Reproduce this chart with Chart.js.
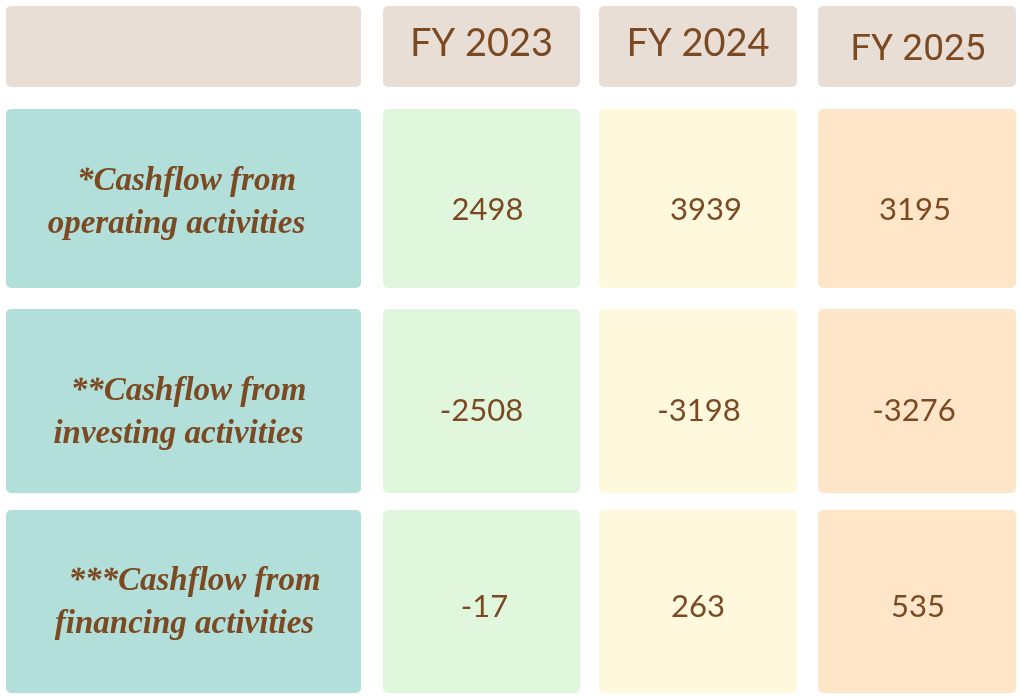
<!DOCTYPE html>
<html>
<head>
<meta charset="utf-8">
<script src="https://cdn.jsdelivr.net/npm/chart.js@4"></script>
<style>
  html, body { margin: 0; padding: 0; background: #ffffff; }
  canvas { display: block; }
</style>
</head>
<body>
<canvas id="cashflowTable" width="1021" height="697"></canvas>
<script>
// Data
const years = ['FY 2023', 'FY 2024', 'FY 2025'];
const rowLabels = [
    ['*Cashflow from', 'operating activities'],
    ['**Cashflow from', 'investing activities'],
    ['***Cashflow from', 'financing activities']
];
const fy2023 = [2498, -2508, -17];
const fy2024 = [3939, -3198, 263];
const fy2025 = [3195, -3276, 535];
const series = [fy2023, fy2024, fy2025];

// Layout (in scale units, 1 unit = 1 px)
const colEdges = [[6, 361], [383, 580], [599, 797], [818, 1016]];
const rowEdges = [[6, 87], [109, 288], [309, 493], [510, 693]];
const headerFill = '#e9ded6';
const labelFill = '#b2dfd9';
const colFills = ['#e0f7dd', '#fef8dc', '#ffe6c8'];
const textColor = '#7b4a22';

function roundRect(ctx, x, y, w, h, r) {
    ctx.beginPath();
    ctx.moveTo(x + r, y);
    ctx.arcTo(x + w, y, x + w, y + h, r);
    ctx.arcTo(x + w, y + h, x, y + h, r);
    ctx.arcTo(x, y + h, x, y, r);
    ctx.arcTo(x, y, x + w, y, r);
    ctx.closePath();
    ctx.fill();
}

const tablePlugin = {
    id: 'tableCells',
    afterDraw(chart) {
        const ctx = chart.ctx;
        const xs = chart.scales.x;
        const ys = chart.scales.y;
        const cell = (c, r) => {
            const x0 = xs.getPixelForValue(colEdges[c][0]);
            const x1 = xs.getPixelForValue(colEdges[c][1]);
            const y0 = ys.getPixelForValue(rowEdges[r][0]);
            const y1 = ys.getPixelForValue(rowEdges[r][1]);
            return { x: x0, y: y0, w: x1 - x0, h: y1 - y0, cx: (x0 + x1) / 2, cy: (y0 + y1) / 2 };
        };
        ctx.save();
        // backgrounds
        for (let r = 0; r < rowEdges.length; r++) {
            for (let c = 0; c < colEdges.length; c++) {
                const b = cell(c, r);
                ctx.fillStyle = r === 0 ? headerFill : (c === 0 ? labelFill : colFills[c - 1]);
                roundRect(ctx, b.x, b.y, b.w, b.h, 5);
            }
        }
        ctx.fillStyle = textColor;
        ctx.textAlign = 'center';
        ctx.textBaseline = 'middle';
        // header (last one is set in a different face in the original)
        years.forEach((label, i) => {
            const b = cell(i + 1, 0);
            if (i === 2) {
                ctx.font = '400 37px Roboto';
                ctx.fillText(label, b.cx + 1, b.cy + 4);
            } else {
                ctx.font = '400 38px Lato';
                ctx.fillText(label, b.cx, b.cy - 3);
            }
        });
        // row labels
        ctx.font = 'italic bold 33px "Liberation Serif"';
        const labelMid = [4, 11, 1];
        const labelDx = [[3, -7], [5, -5], [11, 1]];
        rowLabels.forEach((lines, i) => {
            const b = cell(0, i + 1);
            const mid = b.cy + labelMid[i];
            ctx.fillText(lines[0], b.cx + labelDx[i][0], mid - 21);
            ctx.fillText(lines[1], b.cx + labelDx[i][1], mid + 22);
        });
        // values
        ctx.font = '400 31px Lato';
        const yOff = [11, 10, 5];
        const xNudge = [[6, 0, 3], [8, 1, 0], [-2, -3, 1]];
        series.forEach((vals, c) => {
            vals.forEach((v, r) => {
                const b = cell(c + 1, r + 1);
                const s = v < 0 ? '-' + Math.abs(v) : String(v);
                ctx.fillText(s, b.cx + xNudge[c][r], b.cy + yOff[r]);
            });
        });
        ctx.restore();
    }
};

new Chart(document.getElementById('cashflowTable').getContext('2d'), {
    type: 'scatter',
    data: { datasets: [] },
    options: {
        responsive: false,
        animation: false,
        layout: { padding: 0 },
        plugins: { legend: { display: false }, tooltip: { enabled: false } },
        scales: {
            x: { type: 'linear', min: 0, max: 1021, display: false },
            y: { type: 'linear', min: 0, max: 697, reverse: true, display: false }
        }
    },
    plugins: [tablePlugin]
});
</script>
</body>
</html>
